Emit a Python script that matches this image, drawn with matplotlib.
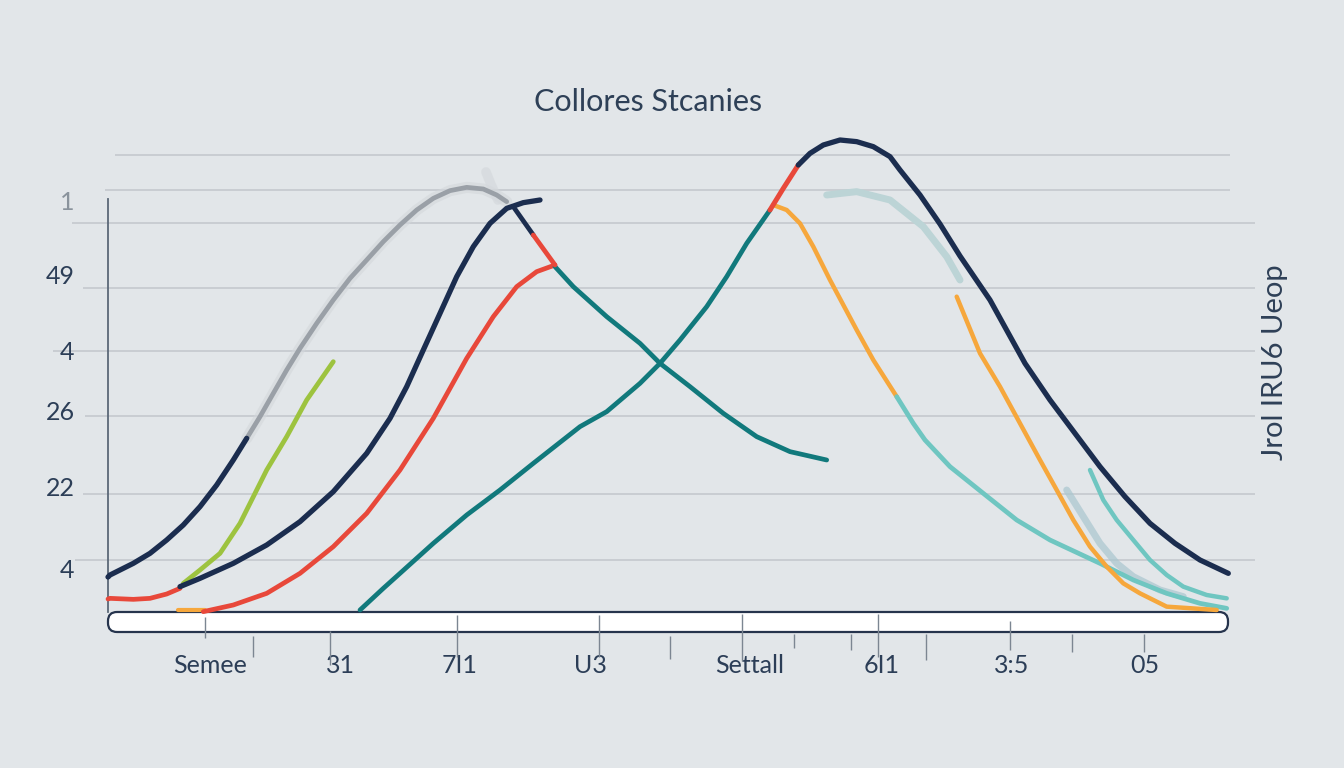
import matplotlib.pyplot as plt
from matplotlib.patches import FancyBboxPatch
from matplotlib.transforms import IdentityTransform

plt.rcParams['font.family'] = ['Lato', 'DejaVu Sans']

# positions; x runs 0-112 along the axis, y 0-94.4 up it
navy_a_x = [0, 0.2, 2.53, 4.2, 5.87, 7.53, 9.2, 10.87, 12.53, 13.87]
navy_a_y = [7.0, 7.4, 9.73, 11.73, 14.4, 17.4, 21.07, 25.4, 30.4, 34.73]

gray_a_x = [13.87, 15.2, 16.53, 17.87, 19.2, 20.87, 22.53, 24.2, 25.87, 27.53, 29.2,
            30.87, 32.53, 34.2, 35.87, 37.53, 38.87, 39.87]
gray_a_y = [34.73, 39.07, 43.73, 48.4, 52.73, 57.73, 62.4, 66.73, 70.4, 74.07, 77.4,
            80.4, 82.73, 84.27, 84.93, 84.6, 83.4, 82.07]

navy_b_x = [7.2, 9.2, 12.53, 15.87, 19.2, 22.53, 25.87, 28.2, 29.87, 31.53, 33.2,
            34.87, 36.53, 38.2, 39.87, 41.53, 43.2]
navy_b_y = [5.07, 6.73, 9.73, 13.4, 18.07, 24.07, 31.73, 38.73, 45.07, 52.4, 59.73,
            67.07, 73.07, 77.73, 80.73, 81.87, 82.4]

navy_drop_x = [40.53, 42.53]
navy_drop_y = [81.07, 75.4]
red_drop_x = [42.53, 44.7]
red_drop_y = [75.4, 69.4]

red_left_x = [0, 0.2, 2.53, 4.2, 5.87, 7.2]
red_left_y = [2.6, 2.73, 2.53, 2.73, 3.6, 4.73]

red_c_x = [9.53, 12.53, 15.87, 19.2, 22.53, 25.87, 29.2, 32.53, 35.87, 38.53, 40.87, 42.87, 44.7]
red_c_y = [0.07, 1.4, 3.73, 7.73, 13.07, 19.73, 28.4, 38.73, 50.73, 59.07, 65.07, 68.07, 69.4]

orange_tiny_x = [7.0, 9.7]
orange_tiny_y = [0.4, 0.4]

green_x = [7.53, 9.2, 11.2, 13.2, 15.87, 17.87, 19.87, 22.53]
green_y = [5.73, 8.4, 11.73, 17.73, 28.4, 35.07, 42.4, 50.07]

teal_d_x = [25.2, 27.53, 29.2, 32.53, 35.87, 39.2, 42.53, 47.2, 49.87, 53.2, 55.2,
            57.2, 59.87, 61.87, 63.87, 66.2]
teal_d_y = [0.4, 4.73, 7.73, 13.73, 19.4, 24.4, 29.73, 37.07, 40.07, 45.73, 49.73,
            54.4, 61.07, 67.07, 73.73, 80.4]

red_top_x = [66.2, 67.53, 69.03]
red_top_y = [80.4, 84.73, 89.4]

navy_top_x = [69.03, 70.2, 71.53, 73.2, 74.87, 76.53, 78.2, 79.2, 81.2, 83.2, 85.2, 88.2,
              91.7, 94.2, 96.7, 99.2, 101.7, 104.2, 106.7, 109.2, 112.03]
navy_top_y = [89.4, 91.73, 93.4, 94.4, 94.07, 93.07, 91.07, 88.4, 83.4, 77.6, 71.2, 62.4,
              49.73, 42.4, 35.73, 29.07, 23.07, 17.73, 13.73, 10.4, 7.73]

teal_e_x = [44.7, 46.53, 49.87, 53.2, 55.2, 58.2, 61.53, 64.87, 68.2, 71.87]
teal_e_y = [69.07, 65.07, 59.07, 53.73, 49.73, 45.07, 39.73, 35.07, 32.07, 30.4]

orange_f_x = [66.53, 67.87, 69.2, 70.53, 72.2, 74.87, 76.53, 78.87]
orange_f_y = [81.4, 80.4, 77.73, 73.07, 66.4, 56.4, 50.4, 43.07]

lteal_f_x = [78.87, 80.53, 81.7, 84.2, 87.53, 90.87, 94.2, 99.2, 102.53, 105.87, 109.2, 111.87]
lteal_f_y = [43.07, 37.73, 34.4, 29.07, 23.73, 18.4, 14.4, 9.73, 6.4, 3.73, 1.73, 0.73]

orange_g_x = [84.87, 87.2, 89.2, 91.2, 93.2, 94.87, 96.53, 98.2, 99.87, 101.53, 103.2, 105.87, 110.87]
orange_g_y = [63.07, 51.73, 45.07, 37.73, 30.4, 24.4, 18.4, 13.07, 9.07, 5.73, 3.73, 1.07, 0.4]

faded_h_x = [71.87, 74.87, 78.2, 81.53, 83.87, 85.2]
faded_h_y = [83.4, 84.07, 82.4, 77.07, 71.07, 66.4]

lteal_i_x = [98.2, 99.53, 100.87, 102.53, 104.2, 105.87, 107.53, 109.87, 111.87]
lteal_i_y = [28.4, 22.4, 18.4, 14.4, 10.4, 7.4, 5.07, 3.4, 2.73]

faded_j_x = [95.87, 97.53, 99.2, 100.87, 102.53, 105.2, 107.53]
faded_j_y = [24.4, 19.07, 13.73, 9.73, 7.07, 4.4, 3.07]

smear_x = [39.0, 38.3, 37.8]
smear_y = [82.4, 85.5, 88.0]

grid_y = [91.4, 84.4, 77.8, 64.8, 52.2, 39.2, 23.6, 10.4]
grid_x0 = [0.7, -0.3, -3.6, -2.5, -5.5, -2.3, -2.5, -3.3]
grid_x1 = [112.2, 112.2, 114.7, 114.7, 114.7, 114.7, 114.7, 114.7]

ytick_pos = [82.4, 67.4, 52.4, 40.4, 25.0, 8.8]
ytick_labels = ['1', '49', '4', '26', '22', '4']

xtick_pos = [10.2, 23.2, 35.2, 48.2, 64.2, 77.4, 90.4, 103.7]
xtick_labels = ['Semee', '31', '7I1', 'U3', 'Settall', '6I1', '3:5', '05']

mark_x = [9.7, 14.5, 22.2, 34.9, 49.1, 56.2, 63.4, 68.6, 74.3, 77.0, 81.8, 90.2, 96.4, 103.6]
mark_y0 = [-1.0, -4.8, -3.8, -0.6, -0.6, -4.8, -0.4, -4.4, -4.4, -0.4, -4.4, -1.8, -4.4, -4.4]
mark_y1 = [-5.2, -9.0, -10.6, -9.0, -9.0, -9.4, -9.8, -7.2, -7.6, -9.0, -9.6, -7.6, -8.0, -8.0]

bg = '#e2e6e9'
navy = '#1b2d4f'
red = '#e8483a'
teal = '#11797c'
green = '#9dc33f'
orange = '#f6a73c'
lteal = '#6fc6c1'
gray = '#9aa0a7'

fig = plt.figure(figsize=(13.44, 7.68), dpi=100, facecolor=bg)
ax = fig.add_axes([108/1344, 156/768, 1120/1344, 472/768])
ax.set_facecolor('none')
ax.set_xlim(0, 112)
ax.set_ylim(0, 94.4)

ax.hlines(grid_y, grid_x0, grid_x1, colors='#c4c9ce', linewidth=1.2, clip_on=False, zorder=1)

kw = dict(solid_capstyle='round', solid_joinstyle='round', clip_on=False)
ax.plot(faded_h_x, faded_h_y, color='#bcd4d6', linewidth=5, zorder=2, **kw)
ax.plot(faded_j_x, faded_j_y, color='#a9c6cf', linewidth=5, alpha=0.7, zorder=2, **kw)
ax.plot(smear_x, smear_y, color='#d0d4d8', linewidth=7, alpha=0.5, zorder=2, **kw)
ax.plot(gray_a_x, gray_a_y, color='#d3d7db', linewidth=8, alpha=0.6, zorder=2, **kw)
ax.plot(gray_a_x, gray_a_y, color=gray, linewidth=3.4, zorder=3, **kw)
ax.plot(navy_a_x, navy_a_y, color=navy, linewidth=3.8, zorder=3, **kw)
ax.plot(green_x, green_y, color=green, linewidth=3.4, zorder=3, **kw)
ax.plot(red_left_x, red_left_y, color=red, linewidth=3.4, zorder=3, **kw)
ax.plot(orange_tiny_x, orange_tiny_y, color=orange, linewidth=3, zorder=3, **kw)
ax.plot(red_c_x, red_c_y, color=red, linewidth=3.4, zorder=3, **kw)
ax.plot(navy_b_x, navy_b_y, color=navy, linewidth=3.8, zorder=4, **kw)
ax.plot(navy_drop_x, navy_drop_y, color=navy, linewidth=3.4, zorder=4, **kw)
ax.plot(red_drop_x, red_drop_y, color=red, linewidth=3.4, zorder=4, **kw)
ax.plot(teal_e_x, teal_e_y, color=teal, linewidth=3.4, zorder=3, **kw)
ax.plot(teal_d_x, teal_d_y, color=teal, linewidth=3.4, zorder=3, **kw)
ax.plot(red_top_x, red_top_y, color=red, linewidth=3.6, zorder=4, **kw)
ax.plot(navy_top_x, navy_top_y, color=navy, linewidth=3.8, zorder=4, **kw)
ax.plot(orange_f_x, orange_f_y, color=orange, linewidth=3.2, zorder=3, **kw)
ax.plot(lteal_f_x, lteal_f_y, color=lteal, linewidth=3.4, zorder=3, **kw)
ax.plot(orange_g_x, orange_g_y, color=orange, linewidth=3.2, zorder=3, **kw)
ax.plot(lteal_i_x, lteal_i_y, color=lteal, linewidth=3.2, zorder=3, **kw)

# white rounded bar under the plot
bar = FancyBboxPatch((108, 768 - 632), 1120, 20, boxstyle='round,pad=0,rounding_size=9',
                     facecolor='white', edgecolor='#26344d', linewidth=1.6,
                     transform=IdentityTransform(), zorder=-1)
fig.add_artist(bar)

ax.vlines(mark_x, mark_y0, mark_y1, colors='#7c8692', linewidth=1, clip_on=False, zorder=2)

for s in ['top', 'right', 'bottom']:
    ax.spines[s].set_visible(False)
ax.spines['left'].set_color('#5b6878')
ax.spines['left'].set_linewidth(1.3)
ax.spines['left'].set_bounds(0, 82.6)

ax.set_xticks(xtick_pos, xtick_labels)
ax.set_yticks(ytick_pos, ytick_labels)
ax.tick_params(axis='x', length=0, pad=30, labelsize=18, labelcolor='#2c3e57')
ax.tick_params(axis='y', length=0, pad=24, labelsize=18, labelcolor='#2c3e57')
ax.get_yticklabels()[0].set_color('#8a939c')

fig.text(648/1344, 1 - 102/768, 'Collores Stcanies', ha='center', va='center',
         fontsize=22, color='#2e4057')
fig.text(1275/1344, 1 - 362/768, 'Jrol IRU6 Ueop', ha='center', va='center',
         rotation=90, fontsize=21, color='#2e4057')

fig.savefig('out.png', dpi=100, facecolor=bg)
